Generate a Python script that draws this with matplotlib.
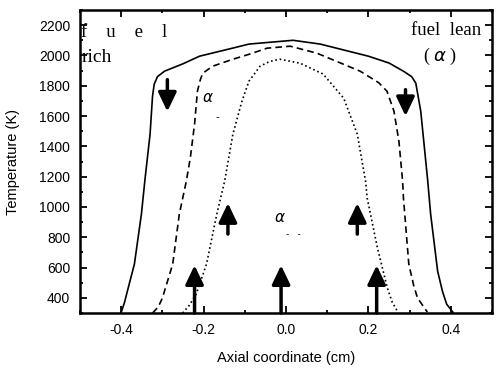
import numpy as np
import matplotlib
matplotlib.use('Agg')
import matplotlib.pyplot as plt
from matplotlib.ticker import MultipleLocator

plt.rcParams['font.family'] = ['Liberation Sans', 'DejaVu Sans']

# solid curve (widest flame)
x_solid = [-0.40, -0.392, -0.385, -0.368, -0.351, -0.342, -0.33, -0.324, -0.32, -0.312,
           -0.295, -0.25, -0.21, -0.13, -0.09, 0.017, 0.083, 0.20, 0.25, 0.285, 0.305,
           0.315, 0.327, 0.344, 0.351, 0.368, 0.38, 0.39, 0.405]
t_solid = [305, 370, 445, 623, 953, 1190, 1480, 1731, 1810, 1860,
           1896, 1945, 1995, 2048, 2075, 2100, 2075, 1995, 1950, 1896, 1860,
           1817, 1632, 1170, 953, 576, 440, 358, 306]

# dashed curve
x_dash = [-0.324, -0.31, -0.30, -0.275, -0.259, -0.242, -0.232, -0.222, -0.215, -0.208,
          -0.202, -0.178, -0.129, -0.088, -0.046, 0.01, 0.075, 0.18, 0.225, 0.245,
          0.262, 0.274, 0.283, 0.285, 0.298, 0.31, 0.319, 0.343]
t_dash = [300, 340, 400, 623, 953, 1170, 1330, 1547, 1764, 1840,
          1883, 1929, 1975, 2009, 2048, 2061, 2015, 1896, 1820, 1764,
          1632, 1434, 1170, 1058, 623, 480, 400, 306]

# dotted curve
x_dot = [-0.251, -0.235, -0.218, -0.193, -0.168, -0.149, -0.129, -0.107, -0.09,
         -0.063, -0.04, -0.015, 0.034, 0.09, 0.14, 0.173, 0.193, 0.197, 0.222,
         0.246, 0.258, 0.27]
t_dot = [300, 350, 425, 623, 953, 1170, 1480, 1698, 1830,
         1929, 1960, 1975, 1949, 1877, 1718, 1480, 1170, 1058, 728,
         464, 370, 313]

# arrows: (x, tail T, head T)
arrows = [(-0.288, 1840, 1630), (0.29, 1774, 1600),
          (-0.222, 300, 615), (-0.141, 821, 1025), (-0.012, 300, 615),
          (0.173, 821, 1025), (0.22, 300, 615)]

fig = plt.figure(figsize=(4.97, 3.70), dpi=100)
ax = fig.add_axes([0.161, 0.154, 0.829, 0.819])

ax.plot(x_solid, t_solid, '-', color='black', lw=1.2)
ax.plot(x_dash, t_dash, '--', color='black', lw=1.2, dashes=(4, 2.5))
ax.plot(x_dot, t_dot, ':', color='black', lw=1.2)

for x, t0, t1 in arrows:
    ax.annotate('', xy=(x, t1), xytext=(x, t0),
                arrowprops=dict(arrowstyle='-|>,head_width=0.55,head_length=1.15',
                                color='black', lw=2.5, shrinkA=0, shrinkB=0))

ax.set_xlim(-0.5, 0.5)
ax.set_ylim(300, 2300)
ax.xaxis.set_minor_locator(MultipleLocator(0.1))
ax.set_xticks([-0.4, -0.2, 0.0, 0.2, 0.4])
ax.set_xticklabels(['-0.4', '-0.2', '0.0', '0.2', '0.4'])
ax.yaxis.set_minor_locator(MultipleLocator(100))
ax.set_yticks(np.arange(400, 2201, 200))
ax.tick_params(which='both', direction='in', top=True, right=True, labelsize=10, width=1.3)
ax.tick_params(axis='y', pad=7)
ax.tick_params(axis='x', pad=7)
ax.tick_params(which='major', length=5)
ax.tick_params(which='minor', length=2.5)
for s in ax.spines.values():
    s.set_linewidth(1.8)

ax.set_xlabel('Axial coordinate (cm)', fontsize=10.5, labelpad=10)
ax.set_ylabel('Temperature (K)', fontsize=10.5, labelpad=14)

serif = ['Liberation Serif', 'DejaVu Serif']
ax.text(0.003, 0.955, 'f    u    e    l', transform=ax.transAxes, family=serif,
        fontsize=13.5, va='top', ha='left')
ax.text(0.003, 0.87, 'rich', transform=ax.transAxes, family=serif,
        fontsize=14, va='top', ha='left')
ax.text(0.975, 0.96, 'fuel  lean', transform=ax.transAxes, family=serif,
        fontsize=13.5, va='top', ha='right')
ax.text(0.875, 0.88, '( $\\alpha$ )', transform=ax.transAxes, family=serif,
        fontsize=13, va='top', ha='center')
ax.text(-0.205, 1720, '$\\alpha$', fontsize=11, ha='left', va='center')
ax.text(-0.030, 925, '$\\alpha$', fontsize=11, ha='left', va='center')
ax.text(-0.17, 1590, '-', fontsize=8, ha='left', va='center')
ax.text(0.0, 820, '-   -', fontsize=7, ha='left', va='center')

fig.savefig('out.png', dpi=100)
